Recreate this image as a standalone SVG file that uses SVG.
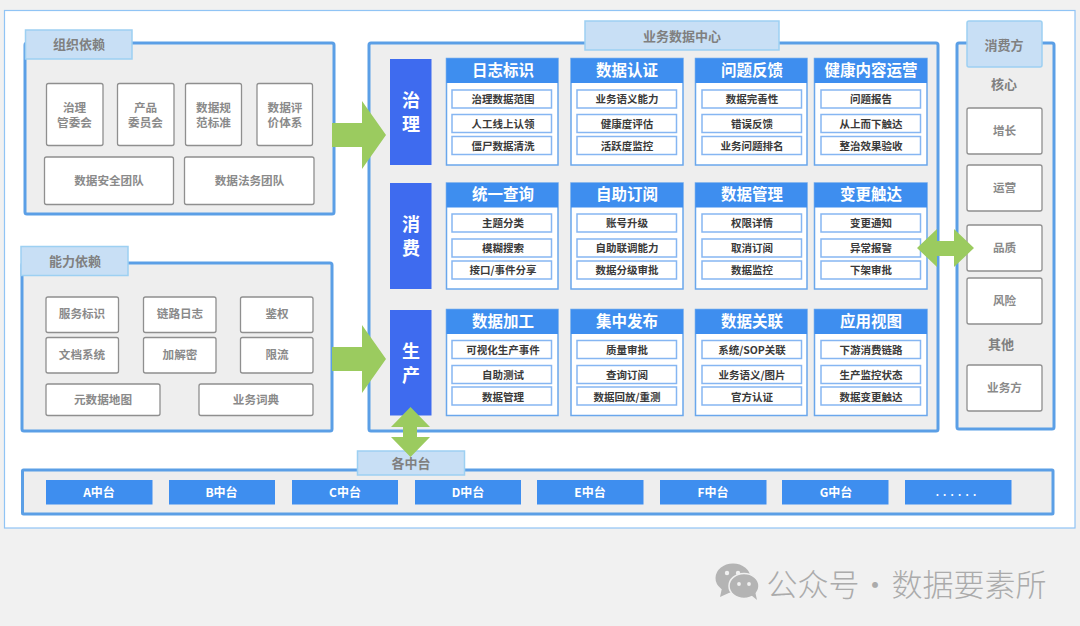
<svg xmlns="http://www.w3.org/2000/svg" width="1080" height="626" viewBox="0 0 1080 626">
<style>
text{font-family:"Noto Sans CJK SC","Liberation Sans",sans-serif;text-anchor:middle;dominant-baseline:central;transform:translateY(-1px)}
.panel{fill:#eeeeee;stroke:#5b9fe6;stroke-width:3}
.tag{fill:#c8dff5;stroke:#9dd0f2;stroke-width:1.5}
.tagt{font-size:13px;font-weight:700;fill:#808080}
.box{fill:#fff;stroke:#8f8f8f;stroke-width:1.3}
.boxt{font-size:11.6px;font-weight:700;fill:#8a8a8a}
.side{fill:#3e6bef}
.sidet{font-size:18px;font-weight:700;fill:#fff}
.card{fill:#fff;stroke:#6aa7ec;stroke-width:1.5}
.head{fill:#3e8eef}
.headt{font-size:15.5px;font-weight:700;fill:#fff}
.item{fill:#fff;stroke:#86b6f2;stroke-width:1.5}
.itemt{font-size:10.5px;font-weight:700;fill:#3a3a3a}
.btn{fill:#3e8eef}
.btnt{font-size:12px;font-weight:700;fill:#fff}
.arrow{fill:#9bcb5f}
</style>
<rect width="1080" height="626" fill="#f1f1f1"/>
<rect x="4.5" y="10.5" width="1070.5" height="517.5" fill="#fff" stroke="#90c4f5" stroke-width="1.2"/>

<g id="org-panel">
<rect class="panel" x="25" y="43" width="309" height="171" rx="2"/>
<rect class="tag" x="25.5" y="30" width="106.5" height="29"/><text class="tagt" x="79" y="44.5">组织依赖</text>
</g>
<g id="org-1"><rect class="box" x="46.5" y="83.5" width="56.5" height="62" rx="2"/><text class="boxt" x="74.5" y="107.500">治理</text><text class="boxt" x="74.5" y="122.500">管委会</text></g>
<g id="org-2"><rect class="box" x="117.5" y="83.5" width="56.5" height="62" rx="2"/><text class="boxt" x="145.5" y="107.500">产品</text><text class="boxt" x="145.5" y="122.500">委员会</text></g>
<g id="org-3"><rect class="box" x="185.5" y="83.5" width="56" height="62" rx="2"/><text class="boxt" x="213.5" y="107.500">数据规</text><text class="boxt" x="213.5" y="122.500">范标准</text></g>
<g id="org-4"><rect class="box" x="257" y="83.5" width="55.5" height="62" rx="2"/><text class="boxt" x="285" y="107.500">数据评</text><text class="boxt" x="285" y="122.500">价体系</text></g>
<g id="org-5"><rect class="box" x="44.5" y="157" width="129" height="47.5" rx="2"/><text class="boxt" x="109" y="180.500">数据安全团队</text></g>
<g id="org-6"><rect class="box" x="184.5" y="157" width="129.500" height="47.5" rx="2"/><text class="boxt" x="249.500" y="180.500">数据法务团队</text></g>

<g id="cap-panel">
<rect class="panel" x="22" y="263" width="310" height="168" rx="2"/>
<rect class="tag" x="21" y="246.500" width="107" height="29"/><text class="tagt" x="75" y="261">能力依赖</text>
</g>
<g id="cap-1"><rect class="box" x="46" y="297" width="72.500" height="35.500" rx="2"/><text class="boxt" x="82" y="314">服务标识</text></g>
<g id="cap-2"><rect class="box" x="143.500" y="297" width="72.500" height="35.500" rx="2"/><text class="boxt" x="180" y="314">链路日志</text></g>
<g id="cap-3"><rect class="box" x="240.500" y="297" width="72.500" height="35.500" rx="2"/><text class="boxt" x="277" y="314">鉴权</text></g>
<g id="cap-4"><rect class="box" x="46" y="337.500" width="72.500" height="35.500" rx="2"/><text class="boxt" x="82" y="355">文档系统</text></g>
<g id="cap-5"><rect class="box" x="143.500" y="337.500" width="72.500" height="35.500" rx="2"/><text class="boxt" x="180" y="355">加解密</text></g>
<g id="cap-6"><rect class="box" x="240.500" y="337.500" width="72.500" height="35.500" rx="2"/><text class="boxt" x="277" y="355">限流</text></g>
<g id="cap-7"><rect class="box" x="46" y="384" width="114" height="31.500" rx="2"/><text class="boxt" x="103" y="400">元数据地图</text></g>
<g id="cap-8"><rect class="box" x="199" y="384" width="114" height="31.500" rx="2"/><text class="boxt" x="256" y="400">业务词典</text></g>

<g id="center-panel">
<rect class="panel" x="369" y="43" width="569" height="388" rx="2"/>
<rect class="tag" x="585" y="21" width="194" height="29"/><text class="tagt" x="682" y="36">业务数据中心</text>
</g>
<g id="side-gov"><rect class="side" x="390" y="59" width="41.500" height="106"/><text class="sidet" x="411" y="100">治<tspan x="411" dy="24">理</tspan></text></g>
<g id="side-con"><rect class="side" x="390" y="183" width="41.500" height="106"/><text class="sidet" x="411" y="224">消<tspan x="411" dy="24">费</tspan></text></g>
<g id="side-pro"><rect class="side" x="390" y="310" width="41.500" height="105.500"/><text class="sidet" x="411" y="351">生<tspan x="411" dy="24">产</tspan></text></g>

<g id="card-a1"><rect class="card" x="446.500" y="58.500" width="111.500" height="106.500"/><rect class="head" x="446.500" y="58.500" width="111.500" height="24.500"/><text class="headt" x="503" y="70">日志标识</text>
<rect class="item" x="452" y="90" width="99.500" height="18"/><text class="itemt" x="503" y="99.500">治理数据范围</text>
<rect class="item" x="452" y="114.500" width="99.500" height="18"/><text class="itemt" x="503" y="124">人工线上认领</text>
<rect class="item" x="452" y="136.500" width="99.500" height="18"/><text class="itemt" x="503" y="146">僵尸数据清洗</text></g>
<g id="card-a2"><rect class="card" x="571" y="58.500" width="112" height="106.500"/><rect class="head" x="571" y="58.500" width="112" height="24.500"/><text class="headt" x="627" y="70">数据认证</text>
<rect class="item" x="577" y="90" width="99.500" height="18"/><text class="itemt" x="627" y="99.500">业务语义能力</text>
<rect class="item" x="577" y="114.500" width="99.500" height="18"/><text class="itemt" x="627" y="124">健康度评估</text>
<rect class="item" x="577" y="136.500" width="99.500" height="18"/><text class="itemt" x="627" y="146">活跃度监控</text></g>
<g id="card-a3"><rect class="card" x="695.500" y="58.500" width="111.500" height="106.500"/><rect class="head" x="695.500" y="58.500" width="111.500" height="24.500"/><text class="headt" x="752" y="70">问题反馈</text>
<rect class="item" x="702" y="90" width="99.500" height="18"/><text class="itemt" x="752" y="99.500">数据完善性</text>
<rect class="item" x="702" y="114.500" width="99.500" height="18"/><text class="itemt" x="752" y="124">错误反馈</text>
<rect class="item" x="702" y="136.500" width="99.500" height="18"/><text class="itemt" x="752" y="146">业务问题排名</text></g>
<g id="card-a4"><rect class="card" x="814.500" y="58.500" width="112.500" height="106.500"/><rect class="head" x="814.500" y="58.500" width="112.500" height="24.500"/><text class="headt" x="871" y="70">健康内容运营</text>
<rect class="item" x="821" y="90" width="99.500" height="18"/><text class="itemt" x="871" y="99.500">问题报告</text>
<rect class="item" x="821" y="114.500" width="99.500" height="18"/><text class="itemt" x="871" y="124">从上而下触达</text>
<rect class="item" x="821" y="136.500" width="99.500" height="18"/><text class="itemt" x="871" y="146">整治效果验收</text></g>

<g id="card-b1"><rect class="card" x="446.500" y="183" width="111.500" height="106"/><rect class="head" x="446.500" y="183" width="111.500" height="24.500"/><text class="headt" x="503" y="194">统一查询</text>
<rect class="item" x="452" y="214" width="99.500" height="18"/><text class="itemt" x="503" y="223.500">主题分类</text>
<rect class="item" x="452" y="239" width="99.500" height="18"/><text class="itemt" x="503" y="248.500">模糊搜索</text>
<rect class="item" x="452" y="261" width="99.500" height="18"/><text class="itemt" x="503" y="270.500">接口/事件分享</text></g>
<g id="card-b2"><rect class="card" x="571" y="183" width="112" height="106"/><rect class="head" x="571" y="183" width="112" height="24.500"/><text class="headt" x="627" y="194">自助订阅</text>
<rect class="item" x="577" y="214" width="99.500" height="18"/><text class="itemt" x="627" y="223.500">账号升级</text>
<rect class="item" x="577" y="239" width="99.500" height="18"/><text class="itemt" x="627" y="248.500">自助联调能力</text>
<rect class="item" x="577" y="261" width="99.500" height="18"/><text class="itemt" x="627" y="270.500">数据分级审批</text></g>
<g id="card-b3"><rect class="card" x="695.500" y="183" width="111.500" height="106"/><rect class="head" x="695.500" y="183" width="111.500" height="24.500"/><text class="headt" x="752" y="194">数据管理</text>
<rect class="item" x="702" y="214" width="99.500" height="18"/><text class="itemt" x="752" y="223.500">权限详情</text>
<rect class="item" x="702" y="239" width="99.500" height="18"/><text class="itemt" x="752" y="248.500">取消订阅</text>
<rect class="item" x="702" y="261" width="99.500" height="18"/><text class="itemt" x="752" y="270.500">数据监控</text></g>
<g id="card-b4"><rect class="card" x="814.500" y="183" width="112.500" height="106"/><rect class="head" x="814.500" y="183" width="112.500" height="24.500"/><text class="headt" x="871" y="194">变更触达</text>
<rect class="item" x="821" y="214" width="99.500" height="18"/><text class="itemt" x="871" y="223.500">变更通知</text>
<rect class="item" x="821" y="239" width="99.500" height="18"/><text class="itemt" x="871" y="248.500">异常报警</text>
<rect class="item" x="821" y="261" width="99.500" height="18"/><text class="itemt" x="871" y="270.500">下架审批</text></g>

<g id="card-c1"><rect class="card" x="446.500" y="309.500" width="111.500" height="106"/><rect class="head" x="446.500" y="309.500" width="111.500" height="24.500"/><text class="headt" x="503" y="320.500">数据加工</text>
<rect class="item" x="452" y="340.500" width="99.500" height="18"/><text class="itemt" x="503" y="350">可视化生产事件</text>
<rect class="item" x="452" y="365.500" width="99.500" height="18"/><text class="itemt" x="503" y="375">自助测试</text>
<rect class="item" x="452" y="387" width="99.500" height="18"/><text class="itemt" x="503" y="397">数据管理</text></g>
<g id="card-c2"><rect class="card" x="571" y="309.500" width="112" height="106"/><rect class="head" x="571" y="309.500" width="112" height="24.500"/><text class="headt" x="627" y="320.500">集中发布</text>
<rect class="item" x="577" y="340.500" width="99.500" height="18"/><text class="itemt" x="627" y="350">质量审批</text>
<rect class="item" x="577" y="365.500" width="99.500" height="18"/><text class="itemt" x="627" y="375">查询订阅</text>
<rect class="item" x="577" y="387" width="99.500" height="18"/><text class="itemt" x="627" y="397">数据回放/重测</text></g>
<g id="card-c3"><rect class="card" x="695.500" y="309.500" width="111.500" height="106"/><rect class="head" x="695.500" y="309.500" width="111.500" height="24.500"/><text class="headt" x="752" y="320.500">数据关联</text>
<rect class="item" x="702" y="340.500" width="99.500" height="18"/><text class="itemt" x="752" y="350">系统/SOP关联</text>
<rect class="item" x="702" y="365.500" width="99.500" height="18"/><text class="itemt" x="752" y="375">业务语义/图片</text>
<rect class="item" x="702" y="387" width="99.500" height="18"/><text class="itemt" x="752" y="397">官方认证</text></g>
<g id="card-c4"><rect class="card" x="814.500" y="309.500" width="112.500" height="106"/><rect class="head" x="814.500" y="309.500" width="112.500" height="24.500"/><text class="headt" x="871" y="320.500">应用视图</text>
<rect class="item" x="821" y="340.500" width="99.500" height="18"/><text class="itemt" x="871" y="350">下游消费链路</text>
<rect class="item" x="821" y="365.500" width="99.500" height="18"/><text class="itemt" x="871" y="375">生产监控状态</text>
<rect class="item" x="821" y="387" width="99.500" height="18"/><text class="itemt" x="871" y="397">数据变更触达</text></g>

<g id="consumer-panel">
<rect class="panel" x="957" y="43" width="97" height="386" rx="2"/>
<rect class="tag" x="967" y="21" width="75" height="46" rx="2"/><text class="tagt" x="1004" y="45">消费方</text>
<text class="tagt" x="1004" y="84.500">核心</text>
<text class="tagt" x="1001" y="344.500">其他</text>
</g>
<g id="con-1"><rect class="box" x="967" y="108" width="75" height="46" rx="2"/><text class="boxt" x="1004.500" y="130.500">增长</text></g>
<g id="con-2"><rect class="box" x="967" y="165" width="75" height="46" rx="2"/><text class="boxt" x="1004.500" y="188">运营</text></g>
<g id="con-3"><rect class="box" x="967" y="225" width="75" height="46" rx="2"/><text class="boxt" x="1004.500" y="248">品质</text></g>
<g id="con-4"><rect class="box" x="967" y="278" width="75" height="46" rx="2"/><text class="boxt" x="1004.500" y="301">风险</text></g>
<g id="con-5"><rect class="box" x="967" y="365" width="75" height="46" rx="2"/><text class="boxt" x="1004.500" y="388">业务方</text></g>

<g id="platform-panel">
<rect class="panel" x="22.500" y="470" width="1030.500" height="44" rx="1"/>
<rect class="tag" x="357.500" y="451" width="107" height="24"/><text class="tagt" x="411" y="463.500">各中台</text>
</g>
<g id="p-a"><rect class="btn" x="46" y="480" width="106.500" height="24.500"/><text class="btnt" x="99" y="492.500">A中台</text></g>
<g id="p-b"><rect class="btn" x="169" y="480" width="106" height="24.500"/><text class="btnt" x="221.500" y="492.500">B中台</text></g>
<g id="p-c"><rect class="btn" x="292" y="480" width="106" height="24.500"/><text class="btnt" x="345" y="492.500">C中台</text></g>
<g id="p-d"><rect class="btn" x="415" y="480" width="106" height="24.500"/><text class="btnt" x="468" y="492.500">D中台</text></g>
<g id="p-e"><rect class="btn" x="537" y="480" width="106.500" height="24.500"/><text class="btnt" x="590" y="492.500">E中台</text></g>
<g id="p-f"><rect class="btn" x="660" y="480" width="106.500" height="24.500"/><text class="btnt" x="713" y="492.500">F中台</text></g>
<g id="p-g"><rect class="btn" x="782" y="480" width="106.500" height="24.500"/><text class="btnt" x="836" y="492.500">G中台</text></g>
<g id="p-more"><rect class="btn" x="905" y="480" width="106.500" height="24.500"/><text class="btnt" x="958" y="492.500" style="font-size:10px;letter-spacing:4.200px">......</text></g>

<g id="connectors">
<polygon class="arrow" points="332,123 362,123 362,101 386,135 362,169 362,147 332,147"/>
<polygon class="arrow" points="332,347 362,347 362,325 386,359 362,393 362,371 332,371"/>
<polygon class="arrow" points="917,248 937,229 937,241 954,241 954,229 974,248 954,267 954,256 937,256 937,267"/>
<polygon class="arrow" points="410.500,407 430,427 417,427 417,437 430,437 410.500,457 391,437 403,437 403,427 391,427"/>
</g>

<g id="watermark">
<ellipse cx="733" cy="578" rx="17.500" ry="14.500" fill="#b4b4b4"/>
<polygon points="722,588 720,597 731,592" fill="#b4b4b4"/>
<ellipse cx="744" cy="586" rx="15" ry="12.500" fill="#b4b4b4" stroke="#f1f1f1" stroke-width="1.5"/>
<polygon points="751,595 757,600 755,591" fill="#b4b4b4"/>
<circle cx="727" cy="573" r="2.200" fill="#f1f1f1"/><circle cx="738" cy="573" r="2.200" fill="#f1f1f1"/>
<circle cx="739" cy="584" r="1.900" fill="#f1f1f1"/><circle cx="749" cy="584" r="1.900" fill="#f1f1f1"/>
<text y="583" font-size="31" fill="#ababab" font-weight="300"><tspan x="813">公众号</tspan><tspan x="875">·</tspan><tspan x="969">数据要素所</tspan></text>
</g>
</svg>
